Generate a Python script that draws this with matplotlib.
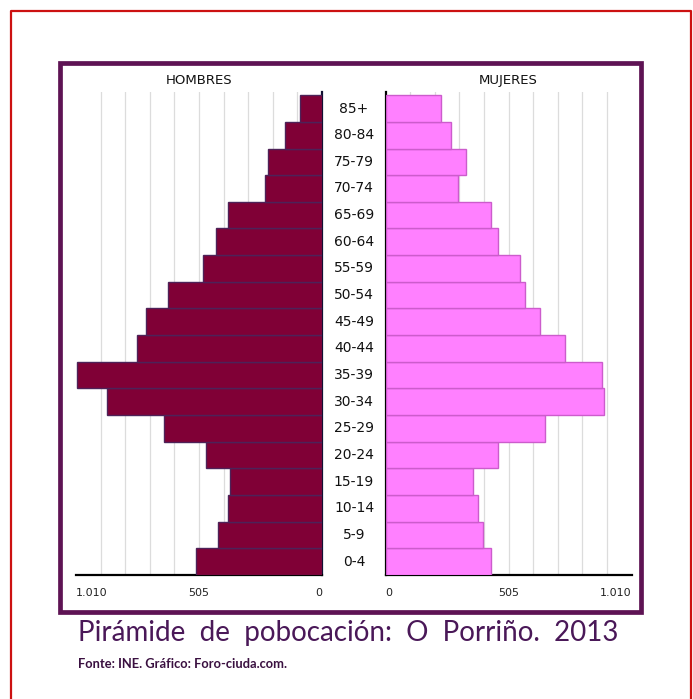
import matplotlib
matplotlib.use("Agg")
import matplotlib.pyplot as plt
from matplotlib.lines import Line2D
from matplotlib.patches import Rectangle
import matplotlib.transforms as mtransforms

age_groups = ["0-4", "5-9", "10-14", "15-19", "20-24", "25-29", "30-34", "35-39",
              "40-44", "45-49", "50-54", "55-59", "60-64", "65-69", "70-74",
              "75-79", "80-84", "85+"]
hombres = [518, 426, 385, 378, 476, 649, 884, 1007, 761, 722, 631, 487, 435, 385,
           234, 223, 152, 90]
mujeres = [432, 399, 381, 360, 460, 655, 898, 887, 737, 634, 573, 552, 460, 432,
           299, 330, 269, 228]
tick_vals = [0, 505, 1010]
tick_labels = ["0", "505", "1.010"]

W, H = 693, 699
fig = plt.figure(figsize=(W / 100, H / 100), dpi=100)
fig.patch.set_facecolor("white")

def fx(x):
    return x / W

def fy(y):
    return 1 - y / H

# red outer frame (left, top, right)
fig.add_artist(Line2D([fx(11), fx(11), fx(691), fx(691)],
                      [fy(705), fy(11), fy(11), fy(705)],
                      transform=fig.transFigure, color="#cc1111", lw=1.6))
# purple inner box
fig.add_artist(Rectangle((fx(59.5), fy(612)), fx(641) - fx(59.5), fy(63) - fy(612),
                         transform=fig.transFigure, fill=False,
                         edgecolor="#5e1354", lw=3.4))

male_color = "#800036"
male_edge = "#4d2258"
female_color = "#ff80ff"
female_edge = "#cc5ccc"

ax_top, ax_bot = 92, 575
ax_h = (ax_bot - ax_top) / H
axL = fig.add_axes([fx(76), fy(ax_bot), fx(322) - fx(76), ax_h])
axR = fig.add_axes([fx(385.5), fy(ax_bot), fx(631.5) - fx(385.5), ax_h])

ypos = list(range(len(age_groups)))
axL.barh(ypos, hombres, height=1.0, color=male_color, edgecolor=male_edge,
         linewidth=1.0, zorder=3)
axR.barh(ypos, mujeres, height=1.0, color=female_color, edgecolor=female_edge,
         linewidth=1.0, zorder=3)

for ax in (axL, axR):
    ax.set_xlim(0, 1010)
    ax.set_ylim(-0.5, 17.62)
    ax.set_yticks([])
    ax.set_xticks(tick_vals)
    ax.set_xticklabels(tick_labels, fontsize=8, color="#222222")
    ax.tick_params(axis="x", length=0, pad=9)
    for v in range(101, 1010, 101):
        ax.axvline(v, color="#dcdcdc", lw=0.9, zorder=1)
    ax.spines["top"].set_visible(False)
    ax.spines["bottom"].set_color("black")
    ax.spines["bottom"].set_linewidth(1.6)
    ax.set_facecolor("none")

axL.invert_xaxis()
axL.spines["left"].set_visible(False)
axL.spines["right"].set_color("#111133")
axL.spines["right"].set_linewidth(1.6)
axR.spines["right"].set_visible(False)
axR.spines["left"].set_color("black")
axR.spines["left"].set_linewidth(1.6)

labsL = axL.get_xticklabels()
labsL[0].set_ha("right")
labsL[2].set_ha("left")
labsR = axR.get_xticklabels()
labsR[0].set_ha("left")
labsR[2].set_ha("right")

axL.set_title("HOMBRES", fontsize=9.5, color="#111111", pad=6)
axR.set_title("MUJERES", fontsize=9.5, color="#111111", pad=6)

trans = mtransforms.blended_transform_factory(fig.transFigure, axL.transData)
for i, lab in enumerate(age_groups):
    fig.text(fx(354), i, lab, transform=trans, ha="center", va="center",
             fontsize=10, color="#111111")

fig.text(fx(78), fy(633), "Pirámide  de  pobocación:  O  Porriño.  2013",
         ha="left", va="center", fontsize=20, color="#4a1858",
         family="Lato")
fig.text(fx(78), fy(664), "Fonte: INE. Gráfico: Foro-ciuda.com.",
         ha="left", va="center", fontsize=9.3, color="#3a1040",
         family="Lato", weight="bold")

fig.savefig("out.png", dpi=100, facecolor="white")
